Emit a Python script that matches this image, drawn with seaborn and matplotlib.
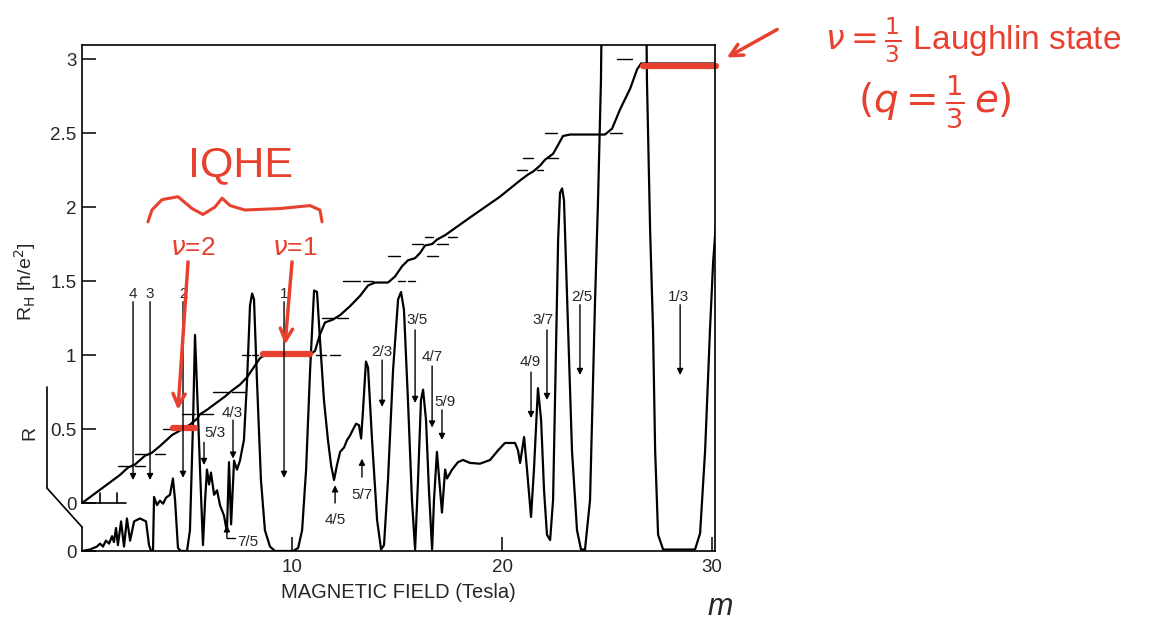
import numpy as np
import pandas as pd
import matplotlib.pyplot as plt
import seaborn as sns

# ---- Hall resistance R_H (in h/e^2) vs magnetic field (Tesla)
rh_field = [0.0, 0.86, 1.81, 2.19, 2.52, 3.0, 3.33, 3.71, 4.29, 4.67, 5.14, 5.48, 5.62,
            5.95, 6.33, 6.81, 7.14, 7.52, 7.86, 8.24, 8.48, 8.71, 10.86, 11.1, 11.33,
            11.57, 11.95, 12.29, 12.76, 13.24, 13.62, 13.95, 14.57, 14.9, 15.24, 15.52,
            15.86, 16.1, 16.33, 16.67, 16.9, 17.29, 18.48, 19.9, 20.86, 21.24, 21.48,
            21.81, 22.05, 22.43, 22.67, 22.9, 23.24, 24.9, 25.24, 25.62, 26.1, 26.43,
            26.62, 26.81, 30.14]
rh_value = [0.0, 0.09, 0.19, 0.24, 0.26, 0.32, 0.34, 0.385, 0.46, 0.49, 0.53, 0.57, 0.6,
            0.63, 0.67, 0.72, 0.76, 0.80, 0.85, 0.93, 0.98, 1.0, 1.0, 1.03, 1.14,
            1.22, 1.24, 1.27, 1.33, 1.40, 1.47, 1.49, 1.49, 1.53, 1.60, 1.64,
            1.655, 1.69, 1.74, 1.75, 1.78, 1.81, 1.93, 2.07, 2.18, 2.22, 2.24,
            2.28, 2.32, 2.36, 2.42, 2.48, 2.49, 2.49, 2.53, 2.66, 2.80, 2.93,
            2.97, 2.97, 2.97]

# ---- longitudinal resistance R (arbitrary units, own zero below the R_H zero)
r_field = [0.0, 0.38, 0.71, 0.86, 1.0, 1.14, 1.29, 1.43, 1.52, 1.62, 1.71, 1.86, 2.0,
           2.14, 2.29, 2.48, 2.76, 3.05, 3.19, 3.29, 3.38, 3.43, 3.57, 3.71, 3.86, 4.0,
           4.19, 4.33, 4.43, 4.57, 4.71, 5.0, 5.14, 5.29, 5.38, 5.48, 5.62, 5.76, 5.86,
           5.95, 6.05, 6.14, 6.29, 6.43, 6.57, 6.76, 6.9, 7.0, 7.1, 7.24, 7.38, 7.52,
           7.71, 7.86, 8.0, 8.1, 8.19, 8.33, 8.52, 8.71, 8.95, 9.19, 10.05, 10.29,
           10.48, 10.67, 10.86, 11.05, 11.19, 11.33, 11.52, 11.71, 11.86, 12.0, 12.14,
           12.29, 12.48, 12.62, 12.76, 12.9, 13.05, 13.19, 13.29, 13.38, 13.52, 13.62,
           13.81, 14.05, 14.24, 14.38, 14.57, 14.81, 15.05, 15.19, 15.33, 15.52, 15.71,
           15.86, 16.0, 16.14, 16.24, 16.38, 16.52, 16.67, 16.76, 16.9, 17.05, 17.14,
           17.29, 17.38, 17.62, 17.9, 18.14, 18.48, 18.95, 19.43, 19.81, 20.14, 20.62,
           20.76, 20.86, 21.05, 21.19, 21.38, 21.52, 21.71, 21.86, 22.0, 22.14, 22.29,
           22.43, 22.57, 22.67, 22.76, 22.86, 22.95, 23.1, 23.33, 23.57, 23.76, 23.95,
           24.19, 24.43, 24.57, 24.71, 24.81, 26.81, 26.9, 27.05, 27.19, 27.29, 27.43,
           27.67, 29.19, 29.43, 29.67, 29.9, 30.05, 30.2]
r_value = [0.0, 0.01, 0.03, 0.05, 0.03, 0.07, 0.05, 0.10, 0.06, 0.155, 0.04, 0.2, 0.03,
           0.22, 0.07, 0.2, 0.22, 0.2, 0.04, 0.0, 0.0, 0.365, 0.31, 0.34, 0.32, 0.36,
           0.38, 0.49, 0.345, 0.02, 0.0, 0.0, 0.14, 0.885, 1.46, 1.09, 0.55, 0.04, 0.34,
           0.55, 0.45, 0.53, 0.38, 0.41, 0.31, 0.24, 0.13, 0.6, 0.18, 0.61, 0.55, 0.61,
           0.75, 1.155, 1.66, 1.74, 1.70, 1.155, 0.48, 0.14, 0.03, 0.0, 0.0, 0.02,
           0.14, 0.55, 1.22, 1.76, 1.75, 1.43, 1.02, 0.75, 0.58, 0.48, 0.58,
           0.67, 0.70, 0.75, 0.78, 0.82, 0.86, 0.85, 0.76, 0.95, 1.28, 1.24,
           0.75, 0.21, 0.01, 0.04, 0.48, 1.22, 1.70, 1.75, 1.63, 1.02, 0.345,
           0.01, 0.48, 1.02, 1.09, 0.885, 0.41, 0.01, 0.345, 0.67, 0.41, 0.26,
           0.55, 0.49, 0.55, 0.60, 0.615, 0.595, 0.59, 0.615, 0.68, 0.73, 0.73,
           0.68, 0.595, 0.77, 0.55, 0.23, 0.55, 1.10, 0.885, 0.41, 0.11, 0.074,
           0.345, 1.36, 2.10, 2.42, 2.45, 2.37, 1.70, 0.68, 0.14, 0.01, 0.01,
           0.345, 1.70, 2.37, 3.18, 4.5, 4.5, 3.18, 2.17, 1.49, 0.68, 0.11,
           0.01, 0.01, 0.12, 0.68, 1.49, 1.95, 2.24]
r_zero = -0.324  # where the R baseline sits on the R_H scale

# ---- expected plateau values (short dash pairs): level, field ranges
plateau_level = [0.25, 1/3, 0.5, 0.6, 0.75, 1.0, 1.25, 1.5, 5/3, 1.75, 1.8, 2.25, 7/3, 2.5, 3.0]
plateau_spans = [[(1.71, 2.19), (2.52, 3.0)],
                 [(2.52, 3.24), (3.48, 3.95)],
                 [(3.86, 4.43), (4.90, 5.48)],
                 [(4.76, 5.38), (5.62, 6.24)],
                 [(6.24, 6.95), (7.14, 7.76)],
                 [(7.62, 8.0), (8.1, 8.38), (11.14, 11.62), (11.81, 12.29)],
                 [(11.43, 11.95), (12.14, 12.67)],
                 [(12.43, 13.24), (13.38, 13.86), (15.05, 15.38), (15.52, 15.86)],
                 [(14.57, 15.14), (16.43, 16.95)],
                 [(15.71, 16.24), (16.9, 17.43)],
                 [(16.33, 16.71), (17.43, 17.86)],
                 [(20.71, 21.19), (21.67, 21.95)],
                 [(21.0, 21.48), (22.19, 22.67)],
                 [(22.05, 22.62), (25.14, 25.71)],
                 [(25.48, 26.19)]]

# ---- filling-factor arrows: label, field, label y, arrow tail y, arrow head y
nu_labels = ["4", "3", "2", "1", "5/3", "4/3", "2/3", "3/5", "4/7", "5/9", "4/9", "3/7", "2/5", "1/3"]
nu_field = [2.43, 3.24, 4.81, 9.62, 5.81, 7.19, 14.29, 15.86, 16.67, 17.14, 21.38, 22.14, 23.71, 28.48]
nu_text_x = [2.43, 3.24, 4.81, 9.62, 6.35, 7.14, 14.29, 15.95, 16.67, 17.29, 21.33, 21.95, 23.81, 28.38]
nu_text_y = [1.41, 1.41, 1.41, 1.41, 0.47, 0.61, 1.02, 1.236, 0.986, 0.68, 0.953, 1.236, 1.39, 1.39]
nu_tail = [1.36, 1.36, 1.36, 1.36, 0.41, 0.56, 0.966, 1.17, 0.926, 0.63, 0.885, 1.17, 1.34, 1.34]
nu_head = [0.155, 0.155, 0.17, 0.17, 0.257, 0.30, 0.65, 0.676, 0.51, 0.426, 0.574, 0.696, 0.865, 0.865]

up_labels = ["4/5", "5/7"]
up_field = [12.05, 13.33]
up_text_y = [-0.115, 0.054]
up_tail = [0.0, 0.175]
up_head = [0.12, 0.30]

# ---- red hand annotations
red_level = [0.505, 1.01, 2.95]
red_span = [(4.33, 5.38), (8.62, 10.86), (26.7, 30.2)]
brace_x = [3.14, 3.33, 3.81, 4.57, 5.24, 5.76, 6.33, 6.67, 7.05, 7.76, 9.43, 10.86, 11.33, 11.43]
brace_y = [1.90, 1.98, 2.05, 2.07, 1.99, 1.95, 2.0, 2.06, 2.01, 1.98, 1.99, 2.01, 1.98, 1.90]

sns.set_style("ticks")
plt.rcParams['font.family'] = ['Liberation Sans', 'DejaVu Sans']
plt.rcParams['mathtext.fontset'] = 'dejavusans'

W, H = 1173, 624
fig = plt.figure(figsize=(W / 100, H / 100), dpi=100)
ax = fig.add_axes([82 / W, 73 / H, 633 / W, 506 / H])

rh_df = pd.DataFrame({"B": rh_field, "RH": rh_value})
r_df = pd.DataFrame({"B": r_field, "R": np.array(r_value) + r_zero})
sns.lineplot(data=rh_df, x="B", y="RH", ax=ax, color="black", lw=1.6, estimator=None, sort=False)
sns.lineplot(data=r_df, x="B", y="R", ax=ax, color="black", lw=1.6, estimator=None, sort=False)

for lev, spans in zip(plateau_level, plateau_spans):
    for b0, b1 in spans:
        ax.plot([b0, b1], [lev, lev], color="black", lw=1.0)

ax.set_xlim(0, 30.14)
ax.set_ylim(r_zero, 3.095)
ax.set_xticks([10, 20, 30])
ax.set_yticks([r_zero, 0, 0.5, 1, 1.5, 2, 2.5, 3])
ax.set_yticklabels(["0", "0", "0.5", "1", "1.5", "2", "2.5", "3"])
ax.tick_params(direction="in", length=10, width=1.1, labelsize=13.5, color="black")
ax.tick_params(axis="x", pad=6)
ax.tick_params(axis="y", pad=4)
ax.set_xlabel("MAGNETIC FIELD (Tesla)", fontsize=14.5, labelpad=5)
ax.set_ylabel("")
for s in ax.spines.values():
    s.set_linewidth(1.2)
    s.set_color("black")
ax.spines["left"].set_bounds(0, 3.095)

# broken axis line for R and the little R_H zero baseline
kw = dict(color="black", lw=1.2, clip_on=False)
ax.plot([0, 0], [-0.162, r_zero], **kw)
ax.plot([-1.667, 0], [0.101, -0.162], **kw)
ax.plot([-1.667, -1.667], [0.101, 0.784], **kw)
ax.plot([0, 2.1], [0, 0], **kw)
for b in [0.86, 1.67]:
    ax.plot([b, b], [0, 0.065], **kw)

fig.text(25 / W, 1 - 282 / H, r"R$_\mathrm{H}$ [h/e$^2$]", rotation=90, fontsize=14,
         ha="center", va="center")
fig.text(30 / W, 1 - 433 / H, "R", rotation=90, fontsize=14, ha="center", va="center")

aprops = dict(arrowstyle="-|>", color="black", lw=1.0, mutation_scale=9, shrinkA=0, shrinkB=0)
for lab, b, tx, ty, t0, t1 in zip(nu_labels, nu_field, nu_text_x, nu_text_y, nu_tail, nu_head):
    ax.text(tx, ty, lab, fontsize=11, ha="center", va="center")
    ax.annotate("", xy=(b, t1), xytext=(b, t0), arrowprops=aprops)
for lab, b, ty, t0, t1 in zip(up_labels, up_field, up_text_y, up_tail, up_head):
    ax.text(b, ty, lab, fontsize=11, ha="center", va="center")
    ax.annotate("", xy=(b, t1), xytext=(b, t0), arrowprops=aprops)
# 7/5 with its bent leader
ax.annotate("", xy=(6.9, -0.15), xytext=(6.9, -0.237), arrowprops=aprops)
ax.plot([6.9, 7.3], [-0.237, -0.237], color="black", lw=1.0)
ax.text(7.4, -0.26, "7/5", fontsize=11, ha="left", va="center")

# red hand-drawn notes
red = "#e8402e"
for lev, (b0, b1) in zip(red_level, red_span):
    ax.plot([b0, b1], [lev, lev], color=red, lw=4.5, solid_capstyle="round", clip_on=False)
ax.plot(brace_x, brace_y, color=red, lw=2.2, clip_on=False)
rprops = dict(arrowstyle="->", color=red, lw=2.5, mutation_scale=22, shrinkA=0, shrinkB=0)
ax.annotate("", xy=(4.57, 0.63), xytext=(5.05, 1.63), arrowprops=rprops)
ax.annotate("", xy=(9.67, 1.07), xytext=(10.0, 1.63), arrowprops=rprops)
ax.annotate("", xy=(30.7, 3.01), xytext=(33.1, 3.2), arrowprops=rprops, annotation_clip=False)

fig.text(240 / W, 1 - 165 / H, "IQHE", color=red, fontsize=31, ha="center", va="center")
fig.text(193 / W, 1 - 248 / H, r"$\nu$=2", color=red, fontsize=19, ha="center", va="center")
fig.text(295 / W, 1 - 248 / H, r"$\nu$=1", color=red, fontsize=19, ha="center", va="center")
fig.text(973 / W, 1 - 40 / H, r"$\nu=\frac{1}{3}$ Laughlin state", color=red, fontsize=24,
         ha="center", va="center")
fig.text(935 / W, 1 - 102 / H, r"$(q=\frac{1}{3}\,e)$", color=red, fontsize=28,
         ha="center", va="center")
fig.text(720 / W, 1 - 607 / H, "m", fontsize=22, style="italic", ha="center", va="center")

fig.savefig("out.png", dpi=100)
